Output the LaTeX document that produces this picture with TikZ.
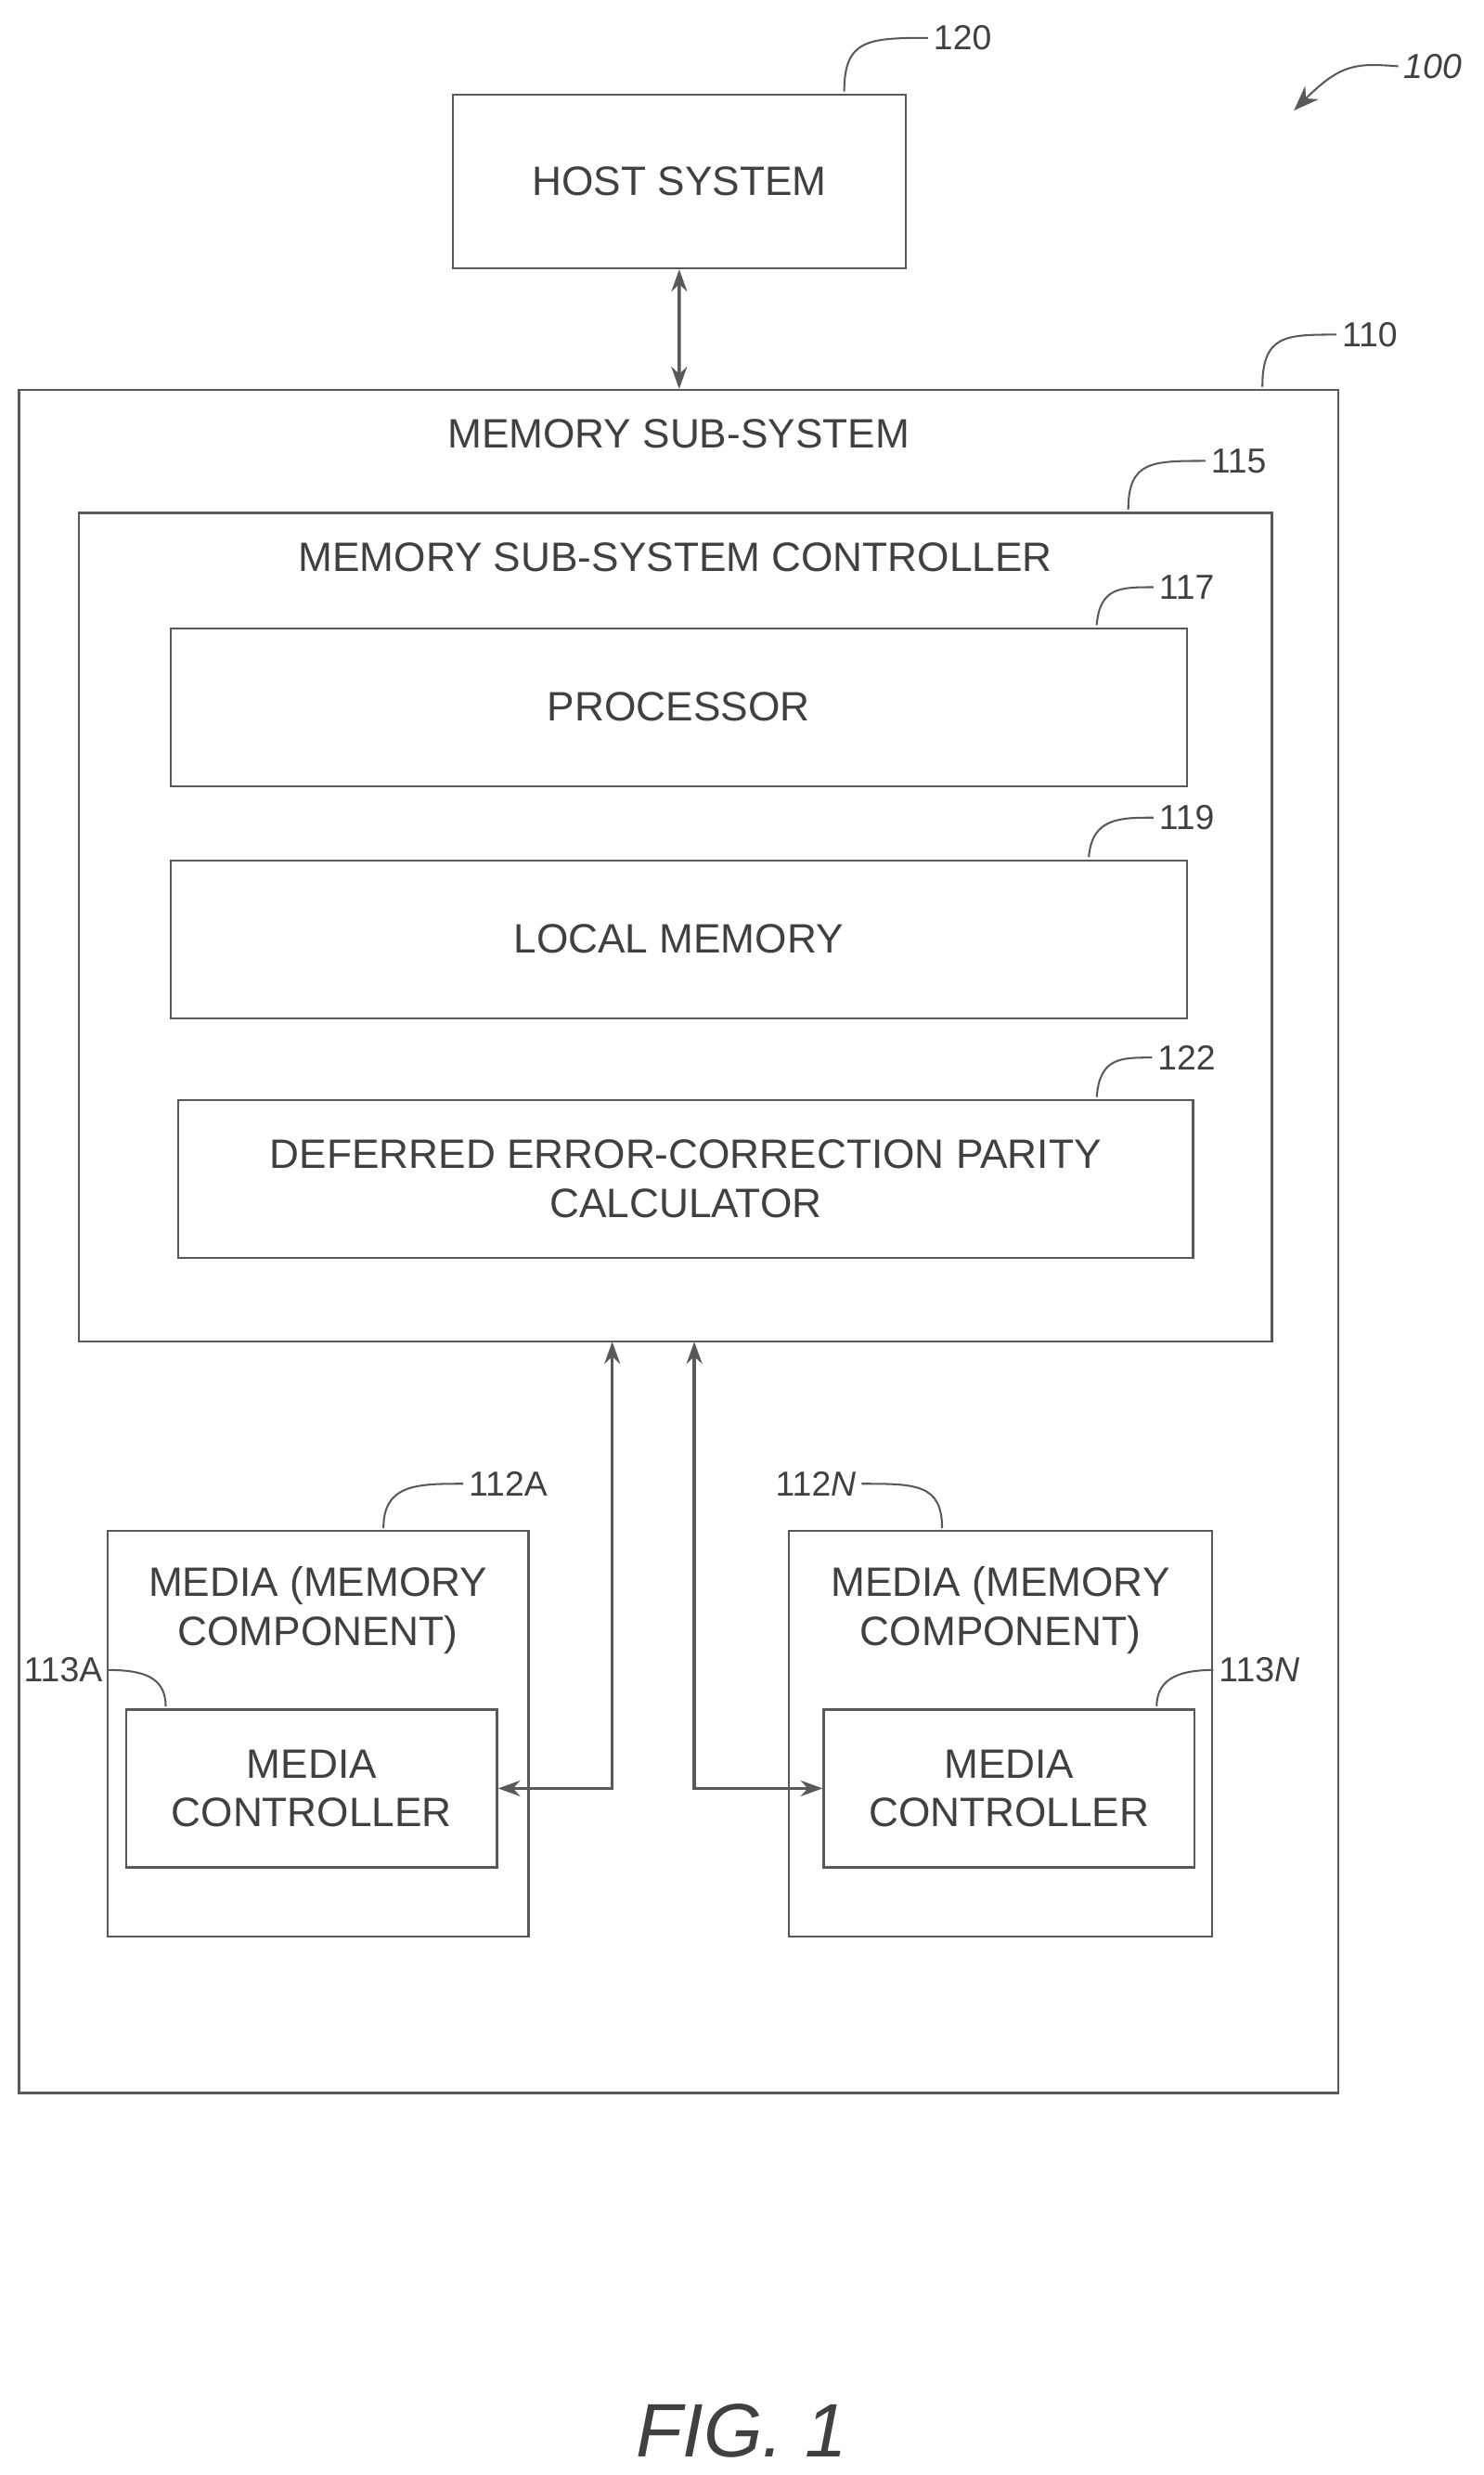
\documentclass[tikz,border=0pt]{standalone}
\usepackage{fontspec}
\setmainfont{Liberation Sans}
\usetikzlibrary{arrows.meta}
\begin{document}
\begin{tikzpicture}[x=1pt,y=-1pt]
  \tikzset{
    box/.style={
      draw=black!65,
      line width=1.3pt,
      inner sep=0pt,
      text=black!75,
      font=\fontsize{26}{31}\selectfont,
      align=center
    },
    reflabel/.style={
      text=black!75,
      font=\fontsize{22}{22}\selectfont
    },
    leader/.style={draw=black!65, line width=1.2pt},
    link/.style={draw=black!65, line width=2pt, {Stealth[length=14pt,width=10pt]}-{Stealth[length=14pt,width=10pt]}}
  }
  \useasboundingbox (0,0) rectangle (940,1568);

  \node[box, minimum width=287pt, minimum height=110pt] (host) at (430.5,115) {HOST SYSTEM};
  \node[box, minimum width=836pt, minimum height=1079pt] (mss) at (430,786.5) {};
  \node[box, draw=none] (msstitle) at (430,275) {MEMORY SUB-SYSTEM};
  \node[box, minimum width=756pt, minimum height=525pt] (ctrl) at (428,587.5) {};
  \node[box, draw=none] (ctrltitle) at (428,353) {MEMORY SUB-SYSTEM CONTROLLER};
  \node[box, minimum width=644pt, minimum height=100pt] (proc) at (430,448) {PROCESSOR};
  \node[box, minimum width=644pt, minimum height=100pt] (lmem) at (430,595) {LOCAL MEMORY};
  \node[box, minimum width=643pt, minimum height=100pt] (parity) at (434.5,747) {DEFERRED ERROR-CORRECTION PARITY\\CALCULATOR};
  \node[box, minimum width=267pt, minimum height=257pt] (mediaA) at (201.5,1098.5) {};
  \node[box, draw=none] (mediaAtext) at (201.5,1020) {MEDIA (MEMORY\\COMPONENT)};
  \node[box, minimum width=235pt, minimum height=100pt] (mcA) at (197.5,1133) {MEDIA\\CONTROLLER};
  \node[box, minimum width=268pt, minimum height=257pt] (mediaN) at (634,1098.5) {};
  \node[box, draw=none] (mediaNtext) at (634,1020) {MEDIA (MEMORY\\COMPONENT)};
  \node[box, minimum width=235pt, minimum height=100pt] (mcN) at (639.5,1133) {MEDIA\\CONTROLLER};

  % reference numerals
  \node[reflabel] (l120) at (610,24) {120};
  \node[reflabel] (l110) at (868,212) {110};
  \node[reflabel] (l115) at (785,292) {115};
  \node[reflabel] (l117) at (752,372) {117};
  \node[reflabel] (l119) at (752,518) {119};
  \node[reflabel] (l122) at (752,670) {122};
  \node[reflabel] (l112A) at (322,940) {112A};
  \node[reflabel] (l112N) at (517,940) {112\textit{N}};
  \node[reflabel] (l113A) at (40,1058) {113A};
  \node[reflabel] (l113N) at (798,1058) {113\textit{N}};
  \node[reflabel, font=\itshape\fontsize{22}{22}\selectfont] (l100) at (908,42) {100};

  \coordinate (c120) at (535,58);
  \coordinate (c110) at (800,245);
  \coordinate (c115) at (715,323);
  \coordinate (c117) at (695,396);
  \coordinate (c119) at (690,543);
  \coordinate (c122) at (695,695);
  \coordinate (c112A) at (243,968);
  \coordinate (c112N) at (597,968);
  \coordinate (c113A) at (105,1081);
  \coordinate (c113N) at (733,1081);
  \coordinate (c100) at (820,70);
  \coordinate (ctrlA) at (388,850);
  \coordinate (ctrlN) at (440,850);

  \draw[leader] (c120) .. controls (535,25) and (550,24) .. (l120.west);
  \draw[leader] (c110) .. controls (800,212) and (815,212) .. (l110.west);
  \draw[leader] (c115) .. controls (715,292) and (730,292) .. (l115.west);
  \draw[leader] (c117) .. controls (697,372) and (710,372) .. (l117.west);
  \draw[leader] (c119) .. controls (692,518) and (710,518) .. (l119.west);
  \draw[leader] (c122) .. controls (697,670) and (710,670) .. (l122.west);
  \draw[leader] (c112A) .. controls (243,940) and (265,940) .. (l112A.west);
  \draw[leader] (c112N) .. controls (597,940) and (580,940) .. (l112N.east);
  \draw[leader] (c113A) .. controls (105,1062) and (90,1058) .. (l113A.east);
  \draw[leader] (c113N) .. controls (733,1062) and (750,1058) .. (l113N.west);
  \draw[leader, -{Stealth[length=16pt,width=12pt]}] (l100.west) .. controls (860,40) and (850,40) .. (c100);

  \draw[link] (host) -- (mss);
  \draw[link] (ctrlA) |- (mcA);
  \draw[link] (ctrlN) |- (mcN);

  \node[font=\itshape\fontsize{48}{48}\selectfont, text=black!75] (fig) at (470,1540) {FIG. 1};
\end{tikzpicture}
\end{document}
